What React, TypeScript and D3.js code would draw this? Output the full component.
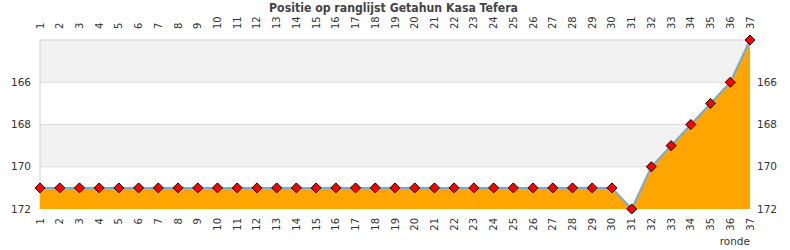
import React from "react";
import * as d3 from "d3";

const rounds: number[] = Array.from({ length: 37 }, (_, i) => i + 1);
const positions: number[] = [
  171, 171, 171, 171, 171, 171, 171, 171, 171, 171,
  171, 171, 171, 171, 171, 171, 171, 171, 171, 171,
  171, 171, 171, 171, 171, 171, 171, 171, 171, 171,
  172, 170, 169, 168, 167, 166, 164,
];
const yTicks: number[] = [166, 168, 170, 172];
const bands: [number, number][] = [[164, 166], [168, 170]];
const title = "Positie op ranglijst Getahun Kasa Tefera";
const xAxisLabel = "ronde";

const W = 790, H = 250;
const L = 40, R = 750, T = 40, B = 209;

export default function App() {
  const x = d3.scaleLinear().domain([1, 37]).range([L, R]);
  const y = d3.scaleLinear().domain([164, 172]).range([T, B]);
  const data = rounds.map((r, i) => ({ r, v: positions[i] }));
  const area = d3.area<{ r: number; v: number }>()
    .x(d => x(d.r)).y0(y(172)).y1(d => y(d.v));
  const line = d3.line<{ r: number; v: number }>()
    .x(d => x(d.r)).y(d => y(d.v));
  const font = "DejaVu Sans, sans-serif";
  const s = 5;
  return (
    <svg width={W} height={H} style={{ position: "absolute", left: 0, top: 0 }}>
      <rect x={0} y={0} width={W} height={H} fill="#fff" />
      {bands.map(([a, b], i) => (
        <rect key={i} x={L} y={y(a)} width={R - L} height={y(b) - y(a)} fill="#f2f2f2" />
      ))}
      {yTicks.slice(0, 3).map(t => (
        <line key={t} x1={L} x2={R} y1={y(t)} y2={y(t)} stroke="#dcdcdc" strokeWidth={1} />
      ))}
      <line x1={L} x2={R} y1={T} y2={T} stroke="#d0d0d0" />
      <line x1={L} x2={L} y1={T} y2={B} stroke="#d0d0d0" />
      <path d={area(data) || ""} fill="#ffa500" />
      <path d={line(data) || ""} fill="none" stroke="#74a9dd" strokeWidth={2} />
      {data.map(d => (
        <path key={d.r}
          d={`M${x(d.r)},${y(d.v) - s}L${x(d.r) + s},${y(d.v)}L${x(d.r)},${y(d.v) + s}L${x(d.r) - s},${y(d.v)}Z`}
          fill="#ff0000" stroke="#000" strokeWidth={1} />
      ))}
      {yTicks.map(t => (
        <g key={t}>
          <text x={31} y={y(t)} dy="0.35em" textAnchor="end" fontSize={10.5} fontFamily={font} fill="#333">{t}</text>
          <text x={757} y={y(t)} dy="0.35em" textAnchor="start" fontSize={10.5} fontFamily={font} fill="#333">{t}</text>
        </g>
      ))}
      {rounds.map(r => (
        <g key={r}>
          <text transform={`translate(${x(r)},29) rotate(-90)`} dy="0.35em" textAnchor="start" fontSize={10} fontFamily={font} fill="#333">{r}</text>
          <text transform={`translate(${x(r)},218) rotate(-90)`} dy="0.35em" textAnchor="end" fontSize={10} fontFamily={font} fill="#333">{r}</text>
        </g>
      ))}
      <text x={393.5} y={12} textAnchor="middle" fontSize={12.2} fontWeight="bold" fontFamily="DejaVu Sans Condensed, DejaVu Sans, sans-serif" fill="#444">{title}</text>
      <text x={750} y={245} textAnchor="end" fontSize={10.5} fontFamily={font} fill="#333">{xAxisLabel}</text>
    </svg>
  );
}
